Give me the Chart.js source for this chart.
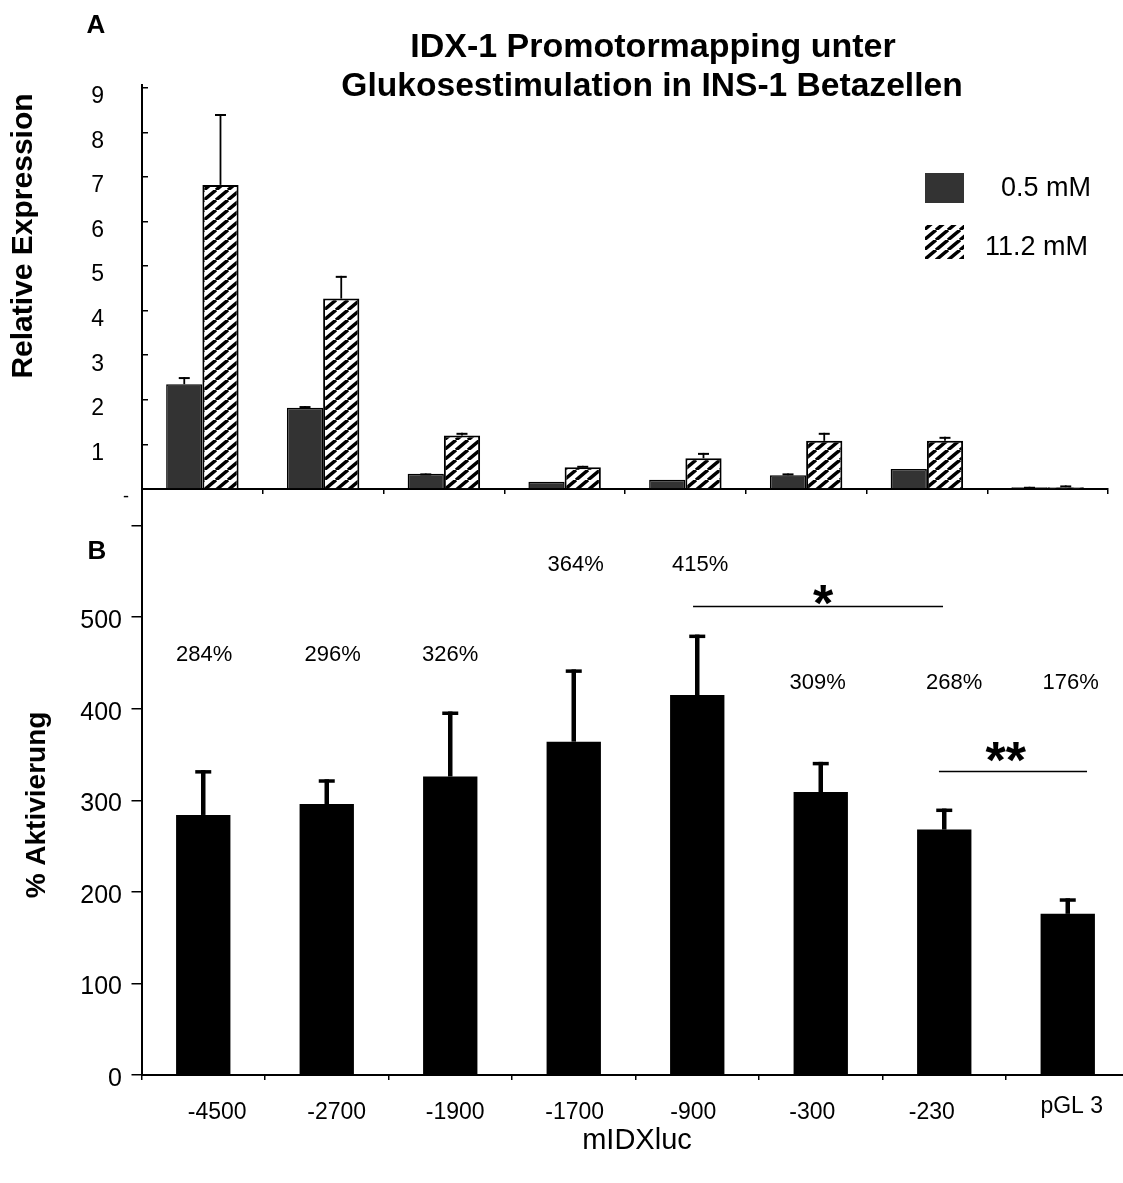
<!DOCTYPE html>
<html>
<head>
<meta charset="utf-8">
<script src="https://cdn.jsdelivr.net/npm/chart.js@4.4.1/dist/chart.umd.min.js"></script>
<style>
  html, body { margin: 0; padding: 0; background: #fff; overflow: hidden; }
  #wrap { position: relative; width: 1123px; height: 1183px; overflow: hidden; background: #fff; }
  #chartA { position: absolute; left: 0; top: 0; }
  #chartB { position: absolute; left: 0; top: 430px; }
</style>
</head>
<body>
<div id="wrap">
  <canvas id="chartA" width="1123" height="500"></canvas>
  <canvas id="chartB" width="1140" height="753"></canvas>
</div>
<script>
const FONT = '"Liberation Sans", Arial, sans-serif';
Chart.defaults.font.family = FONT;
Chart.defaults.color = '#000';

// promoter constructs (shared by both panels)
const constructs = ['-4500', '-2700', '-1900', '-1700', '-900', '-300', '-230', 'pGL 3'];

// panel A: relative expression at 0.5 mM and 11.2 mM glucose
const lowGlucose = [2.35, 1.82, 0.34, 0.16, 0.21, 0.31, 0.45, 0.04];
const lowGlucoseErr = [0.16, 0.04, 0.01, 0, 0, 0.04, 0, 0.01];
const highGlucose = [6.82, 4.27, 1.20, 0.49, 0.69, 1.08, 1.08, 0.04];
const highGlucoseErr = [1.59, 0.51, 0.06, 0.03, 0.12, 0.18, 0.09, 0.04];
const expressionTicks = [0, 1, 2, 3, 4, 5, 6, 7, 8, 9];

// panel B: % activation (11.2 vs 0.5 mM)
const activation = [284, 296, 326, 364, 415, 309, 268, 176];
const activationErr = [49, 27, 71, 79, 66, 33, 23, 17];
const activationTicks = [0, 100, 200, 300, 400, 500, 600];

// diagonal hatch used for the 11.2 mM bars
function makeHatch(ctx) {
  const w = 12, h = 10;
  const c = document.createElement('canvas');
  c.width = w; c.height = h;
  const g = c.getContext('2d');
  g.fillStyle = '#fff';
  g.fillRect(0, 0, w, h);
  g.strokeStyle = '#000';
  g.lineWidth = 3.5;
  g.beginPath();
  for (let k = -1; k <= 1; k++) {
    g.moveTo(k * w, h);
    g.lineTo(k * w + w, 0);
  }
  g.stroke();
  return ctx.createPattern(c, 'repeat');
}

// keep the plot area exactly where the layout padding puts it
function fixWidth(w) {
  return (s) => { s.width = w; s.paddingTop = 0; s.paddingBottom = 0; };
}
function fixHeight(h) {
  return (s) => { s.height = h; s.paddingLeft = 0; s.paddingRight = 0; };
}

// upward error bars, values come from dataset.errors
const errorBars = {
  id: 'errorBars',
  afterDatasetsDraw(chart, args, opts) {
    const ctx = chart.ctx;
    const y = chart.scales.y;
    chart.data.datasets.forEach((ds, i) => {
      if (!ds.errors) return;
      chart.getDatasetMeta(i).data.forEach((bar, j) => {
        const err = ds.errors[j];
        if (!err) return;
        const top = y.getPixelForValue(ds.data[j] + err);
        ctx.save();
        ctx.strokeStyle = '#000';
        ctx.lineWidth = opts.width;
        ctx.beginPath();
        ctx.moveTo(bar.x, bar.y);
        ctx.lineTo(bar.x, top);
        ctx.stroke();
        ctx.lineWidth = opts.capWidth;
        ctx.beginPath();
        ctx.moveTo(bar.x - opts.cap / 2, top + opts.capWidth / 2);
        ctx.lineTo(bar.x + opts.cap / 2, top + opts.capWidth / 2);
        ctx.stroke();
        ctx.restore();
      });
    });
  }
};

// free text: panel letters, titles, axis titles
const freeText = {
  id: 'freeText',
  afterDraw(chart, args, opts) {
    const ctx = chart.ctx;
    opts.items.forEach(t => {
      ctx.save();
      ctx.font = t.font + ' ' + FONT;
      ctx.fillStyle = '#000';
      ctx.textAlign = t.align || 'center';
      ctx.textBaseline = 'middle';
      ctx.translate(t.x, t.y);
      if (t.rotate) ctx.rotate(-Math.PI / 2);
      ctx.fillText(t.text, 0, 0);
      ctx.restore();
    });
  }
};

// legend boxes for panel A
const boxLegend = {
  id: 'boxLegend',
  afterDraw(chart, args, opts) {
    const ctx = chart.ctx;
    chart.data.datasets.forEach((ds, i) => {
      const e = opts.entries[i];
      ctx.save();
      ctx.fillStyle = ds.backgroundColor;
      ctx.fillRect(e.x, e.y, 39, e.h);
      ctx.fillStyle = '#000';
      ctx.font = '27px ' + FONT;
      ctx.textAlign = 'right';
      ctx.textBaseline = 'middle';
      ctx.fillText(ds.label, e.textX, e.textY);
      ctx.restore();
    });
  }
};

// construct names under panel B, percentage labels and significance bars
const annotations = {
  id: 'annotations',
  afterDatasetsDraw(chart, args, opts) {
    const ctx = chart.ctx;
    const x = chart.scales.x, y = chart.scales.y;
    const meta = chart.getDatasetMeta(0);
    ctx.save();
    ctx.fillStyle = '#000';
    ctx.textAlign = 'center';
    ctx.textBaseline = 'middle';
    ctx.font = '23px ' + FONT;
    chart.data.labels.forEach((lab, i) => {
      ctx.fillText(lab, x.getPixelForValue(i) + opts.nameShift[i], chart.chartArea.bottom + opts.nameDy[i]);
    });
    ctx.font = '22px ' + FONT;
    meta.data.forEach((bar, i) => {
      ctx.fillText(activation[i] + '%', bar.x + opts.shift[i], y.getPixelForValue(opts.levels[i]));
    });
    opts.brackets.forEach(b => {
      const yy = Math.round(y.getPixelForValue(b.y)) + 0.5;
      ctx.strokeStyle = '#000';
      ctx.lineWidth = 1.5;
      ctx.beginPath();
      ctx.moveTo(x.getPixelForValue(b.from), yy);
      ctx.lineTo(x.getPixelForValue(b.to), yy);
      ctx.stroke();
      ctx.font = 'bold 52px ' + FONT;
      ctx.textBaseline = 'alphabetic';
      ctx.fillText(b.mark, x.getPixelForValue(b.at), yy + b.dy);
    });
    ctx.restore();
  }
};

const ctxA = document.getElementById('chartA').getContext('2d');
const hatch = makeHatch(ctxA);

const chartA = new Chart(ctxA, {
  type: 'bar',
  data: {
    labels: constructs,
    datasets: [
      {
        label: '0.5 mM',
        data: lowGlucose,
        errors: lowGlucoseErr,
        backgroundColor: '#333333',
        borderColor: '#000',
        borderWidth: 1.5,
        categoryPercentage: 0.6,
        barPercentage: 1.0,
      },
      {
        label: '11.2 mM',
        data: highGlucose,
        errors: highGlucoseErr,
        backgroundColor: hatch,
        borderColor: '#000',
        borderWidth: 2,
        categoryPercentage: 0.6,
        barPercentage: 1.0,
      },
    ],
  },
  options: {
    responsive: false,
    animation: false,
    layout: { padding: { top: 85, right: 15, left: 0, bottom: 0 } },
    scales: {
      x: {
        afterFit: fixHeight(11),
        ticks: { display: false },
        grid: { drawOnChartArea: false, tickLength: 5, color: '#000', lineWidth: 1.5 },
        border: { color: '#000', width: 2 },
      },
      y: {
        min: 0,
        max: 9.06,
        afterFit: fixWidth(142),
        afterBuildTicks: (s) => { s.ticks = expressionTicks.map(v => ({ value: v })); },
        ticks: {
          font: { size: 23 },
          padding: 44,
          labelOffset: 9,
          callback: (v) => (v === 0 ? '' : v),
        },
        grid: { drawOnChartArea: false, tickLength: -6, color: '#000', lineWidth: 1.5 },
        border: { color: '#000', width: 2 },
      },
    },
    plugins: {
      legend: { display: false },
      tooltip: { enabled: false },
      errorBars: { width: 1.8, capWidth: 2, cap: 11 },
      boxLegend: {
        entries: [
          { x: 925, y: 173, h: 30, textX: 1091, textY: 189 },
          { x: 925, y: 225, h: 34, textX: 1088, textY: 248 },
        ],
      },
      freeText: {
        items: [
          { text: 'A', x: 96, y: 26, font: 'bold 26px' },
          { text: 'IDX-1 Promotormapping unter', x: 653, y: 48, font: 'bold 34px' },
          { text: 'Glukosestimulation in INS-1 Betazellen', x: 652, y: 87, font: 'bold 33.6px' },
          { text: 'Relative Expression', x: 24, y: 236, font: 'bold 30px', rotate: true },
          { text: '-', x: 126, y: 497, font: '18px' },
        ],
      },
    },
  },
  plugins: [errorBars, boxLegend, freeText],
});

const ctxB = document.getElementById('chartB').getContext('2d');
const chartB = new Chart(ctxB, {
  type: 'bar',
  data: {
    labels: constructs,
    datasets: [
      {
        label: '% Aktivierung',
        data: activation,
        errors: activationErr,
        backgroundColor: '#000',
        borderWidth: 0,
        categoryPercentage: 0.44,
        barPercentage: 1.0,
      },
    ],
  },
  options: {
    responsive: false,
    animation: false,
    layout: { padding: { top: 59, right: 10.5, left: 0, bottom: 0 } },
    scales: {
      x: {
        afterFit: fixHeight(108),
        ticks: { display: false },
        grid: { drawOnChartArea: false, tickLength: 5, color: '#000', lineWidth: 1.5 },
        border: { color: '#000', width: 2 },
      },
      y: {
        min: 0,
        max: 640,
        afterFit: fixWidth(141.5),
        afterBuildTicks: (s) => { s.ticks = activationTicks.map(v => ({ value: v })); },
        ticks: {
          font: { size: 25 },
          padding: 9.5,
          labelOffset: 4,
          callback: (v) => (v === 600 ? '' : v),
        },
        grid: { drawOnChartArea: false, tickLength: 10, color: '#000', lineWidth: 1.5 },
        border: { color: '#000', width: 2 },
      },
    },
    plugins: {
      legend: { display: false },
      tooltip: { enabled: false },
      errorBars: { width: 4.5, capWidth: 3.5, cap: 16 },
      annotations: {
        nameShift: [14, 10, 5, 1, -4, -8.5, -12.5, 4],
        nameDy: [38, 38, 38, 38, 38, 38, 38, 32],
        levels: [458.7, 458.7, 458.7, 557, 557, 428, 428, 428],
        shift: [1, 6, 0, 2, 3, -3, 10, 3],
        brackets: [
          { from: 3.966, to: 5.99, y: 512, mark: '*', at: 5.02, dy: 14 },
          { from: 5.957, to: 7.156, y: 332, mark: '**', at: 6.497, dy: 6 },
        ],
      },
      freeText: {
        items: [
          { text: 'B', x: 97, y: 122, font: 'bold 26px' },
          { text: '% Aktivierung', x: 37, y: 375, font: 'bold 28px', rotate: true },
          { text: 'mIDXluc', x: 637, y: 711, font: '29px' },
        ],
      },
    },
  },
  plugins: [errorBars, annotations, freeText],
});
</script>
</body>
</html>
